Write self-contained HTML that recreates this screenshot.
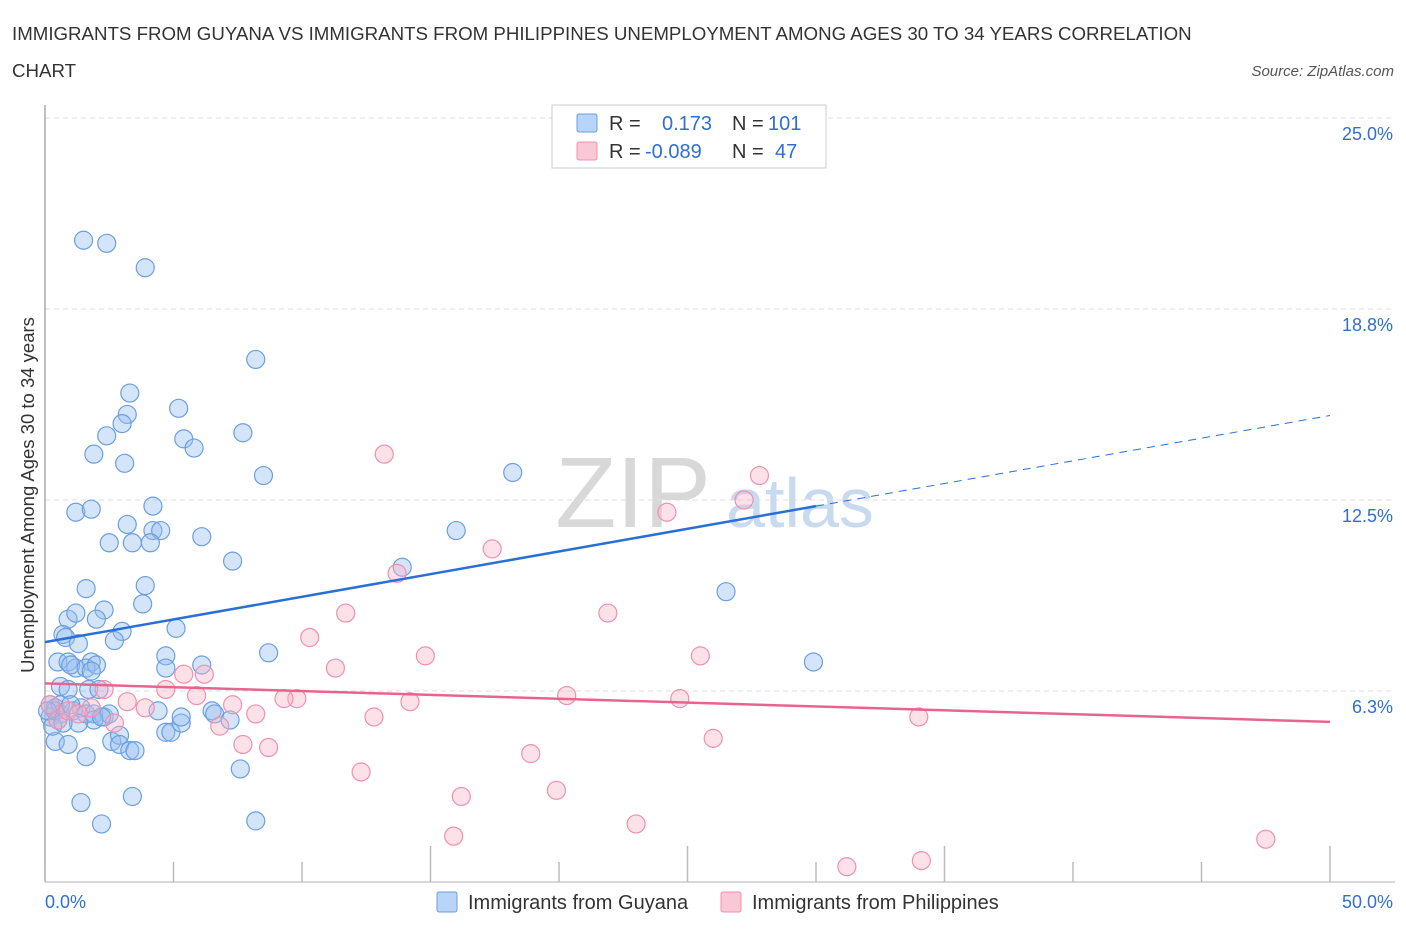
<!DOCTYPE html>
<html><head><meta charset="utf-8">
<style>
body{margin:0;background:#fff;font-family:"Liberation Sans",sans-serif;}
svg text{font-family:"Liberation Sans",sans-serif;}
</style></head>
<body>
<svg id="chart" width="1406" height="930" xmlns="http://www.w3.org/2000/svg">
<text x="12" y="40" font-size="18.7" fill="#333">IMMIGRANTS FROM GUYANA VS IMMIGRANTS FROM PHILIPPINES UNEMPLOYMENT AMONG AGES 30 TO 34 YEARS CORRELATION</text>
<text x="12" y="77" font-size="18.7" fill="#333">CHART</text>
<text x="1394" y="76" font-size="15" fill="#555" font-style="italic" text-anchor="end">Source: ZipAtlas.com</text>
<g>
<text x="633" y="527" font-size="100" fill="#d8d8d8" font-family="Liberation Serif,serif" text-anchor="middle">ZIP</text>
<text x="800" y="527" font-size="70" fill="#c8daf0" text-anchor="middle">atlas</text>
</g>
<g id="grid"></g>
<g id="axes"></g>
<g id="pts"></g>
<g id="trends"></g>
<g>
<rect x="552" y="105" width="274" height="63" fill="#fff" stroke="#ccc"/>
<rect x="577" y="114" width="20" height="18" fill="#b8d4f8" stroke="#6a9fe0" rx="2"/>
<rect x="577" y="142" width="20" height="18" fill="#f8c8d6" stroke="#f090b0" rx="2"/>
<text x="609" y="130" font-size="20" fill="#333">R =</text>
<text x="662" y="130" font-size="20" fill="#2f6fd0">0.173</text>
<text x="732" y="130" font-size="20" fill="#333">N =</text>
<text x="768" y="130" font-size="20" fill="#2f6fd0">101</text>
<text x="609" y="158" font-size="20" fill="#333">R =</text>
<text x="645" y="158" font-size="20" fill="#2f6fd0">-0.089</text>
<text x="732" y="158" font-size="20" fill="#333">N =</text>
<text x="775" y="158" font-size="20" fill="#2f6fd0">47</text>
</g>
<g>
<rect x="437" y="892" width="20" height="20" fill="#b8d4f8" stroke="#6a9fe0" rx="2"/>
<text x="468" y="909" font-size="20" fill="#333">Immigrants from Guyana</text>
<rect x="721" y="892" width="20" height="20" fill="#f8c8d6" stroke="#f090b0" rx="2"/>
<text x="752" y="909" font-size="20" fill="#333">Immigrants from Philippines</text>
</g>
<text transform="translate(34,495) rotate(-90)" font-size="18.5" fill="#333" text-anchor="middle">Unemployment Among Ages 30 to 34 years</text>
</svg>
<script>
const blueX=[1.5,2.4,3.9,8.2,3.3,3.2,5.2,2.4,3.0,5.4,5.8,7.7,1.9,3.1,8.5,18.2,4.2,1.2,1.8,3.2,4.2,4.5,2.5,3.4,4.1,6.1,16.0,7.3,13.9,1.6,3.9,3.8,2.3,0.9,1.2,2.0,0.7,0.8,3.0,5.1,2.7,26.5,8.7,29.9,0.5,0.9,1.2,1.8,1.0,1.6,2.0,1.8,4.7,4.7,6.1,1.3,0.6,0.9,0.2,0.4,0.6,0.2,0.5,1.1,1.4,1.6,1.9,2.3,2.5,1.9,1.3,2.6,2.9,2.9,3.3,3.5,4.4,4.7,4.9,5.3,6.5,6.6,7.2,5.3,0.4,0.9,1.6,7.6,3.4,1.4,8.2,2.2,0.3,0.4,0.6,0.1,0.7,1.0,1.7,2.1,2.2];
const blueY=[21.0,20.9,20.1,17.1,16.0,15.3,15.5,14.6,15.0,14.5,14.2,14.7,14.0,13.7,13.3,13.4,12.3,12.1,12.2,11.7,11.5,11.5,11.1,11.1,11.1,11.3,11.5,10.5,10.3,9.6,9.7,9.1,8.9,8.6,8.8,8.6,8.1,8.0,8.2,8.3,7.9,9.5,7.5,7.2,7.2,7.2,7.0,7.2,7.1,7.0,7.1,6.9,7.4,7.0,7.1,7.8,6.4,6.3,5.8,5.7,5.5,5.4,5.3,5.6,5.7,5.5,5.5,5.4,5.5,5.3,5.2,4.6,4.8,4.5,4.3,4.3,5.6,4.9,4.9,5.2,5.6,5.5,5.3,5.4,4.6,4.5,4.1,3.7,2.8,2.6,2.0,1.9,5.1,5.6,5.8,5.6,5.2,5.8,6.3,6.3,5.4];
const pinkX=[13.2,27.8,27.2,24.2,17.4,13.7,11.7,21.9,10.3,25.5,14.8,11.3,5.4,6.2,2.3,4.7,5.9,20.3,9.8,9.3,24.7,14.2,7.3,3.2,3.9,8.2,12.8,34.0,2.7,6.8,26.0,7.7,8.7,18.9,12.3,19.9,16.2,15.9,23.0,31.2,34.1,47.5,0.2,0.5,0.9,1.8,1.3];
const pinkY=[14.0,13.3,12.5,12.1,10.9,10.1,8.8,8.8,8.0,7.4,7.4,7.0,6.8,6.8,6.3,6.3,6.1,6.1,6.0,6.0,6.0,5.9,5.8,5.9,5.7,5.5,5.4,5.4,5.2,5.1,4.7,4.5,4.4,4.2,3.6,3.0,2.8,1.5,1.9,0.5,0.7,1.4,5.8,5.3,5.6,5.7,5.5];
const yTicks=[25.0,18.75,12.5,6.25];
const yTickLabels=["25.0%","18.8%","12.5%","6.3%"];
const xTicks=[0,5,10,15,20,25,30,35,40,45,50];
const blueTrend=[7.85,0.1483];
const pinkTrend=[6.5,-0.0252];
const NS="http://www.w3.org/2000/svg";
const X=v=>45+v*25.7, Y=v=>882-v*30.56;
function mk(tag,attrs,parent){const e=document.createElementNS(NS,tag);for(const k in attrs)e.setAttribute(k,attrs[k]);parent.appendChild(e);return e;}
const grid=document.getElementById('grid'),axes=document.getElementById('axes'),pts=document.getElementById('pts'),tr=document.getElementById('trends');
yTicks.forEach((t,i)=>{
 const l=mk('line',{x1:45,x2:1395,y1:Y(t),y2:Y(t),stroke:'#ddd','stroke-dasharray':'5,4'},grid);
 
 
 const tx=mk('text',{x:1393,y:Y(t)+22,'font-size':18,fill:'#2f6fd0','text-anchor':'end'},axes);
 tx.textContent=yTickLabels[i];
 
 
});
const ya=mk('line',{x1:45,x2:45,y1:105,y2:882,stroke:'#aaa','stroke-width':1.5},axes);


const xa=mk('line',{x1:45,x2:1395,y1:882,y2:882,stroke:'#ccc','stroke-width':1.5},axes);


xTicks.forEach(t=>{
 const tall=(t===15||t===25||t===35||t===50);
 const l=mk('line',{x1:X(t),x2:X(t),y1:tall?846:862,y2:882,stroke:'#bbb','stroke-width':1.5},axes);
 
 
});
const xl0=mk('text',{x:45,y:908,'font-size':18,fill:'#2f6fd0'},axes);xl0.textContent='0.0%';


const xl1=mk('text',{x:1393,y:908,'font-size':18,fill:'#2f6fd0','text-anchor':'end'},axes);xl1.textContent='50.0%';


blueX.forEach((v,i)=>{
 const c=mk('circle',{cx:X(v),cy:Y(blueY[i]),r:9,fill:'rgba(150,190,240,0.4)',stroke:'#6a9fe0','stroke-width':1.2},pts);
 
 
});
pinkX.forEach((v,i)=>{
 const c=mk('circle',{cx:X(v),cy:Y(pinkY[i]),r:9,fill:'rgba(248,180,200,0.4)',stroke:'#f090b0','stroke-width':1.2},pts);
 
 
});
const b1=mk('line',{x1:X(0),y1:Y(blueTrend[0]),x2:X(30),y2:Y(blueTrend[0]+30*blueTrend[1]),stroke:'#2a6fd6','stroke-width':2.5},tr);


const b2=mk('line',{x1:X(30),y1:Y(blueTrend[0]+30*blueTrend[1]),x2:X(50),y2:Y(blueTrend[0]+50*blueTrend[1]),stroke:'#2a6fd6','stroke-width':1,'stroke-dasharray':'8,6'},tr);


const p1=mk('line',{x1:X(0),y1:Y(pinkTrend[0]),x2:X(50),y2:Y(pinkTrend[0]+50*pinkTrend[1]),stroke:'#e8648e','stroke-width':2.5},tr);


</script>
</body></html>
